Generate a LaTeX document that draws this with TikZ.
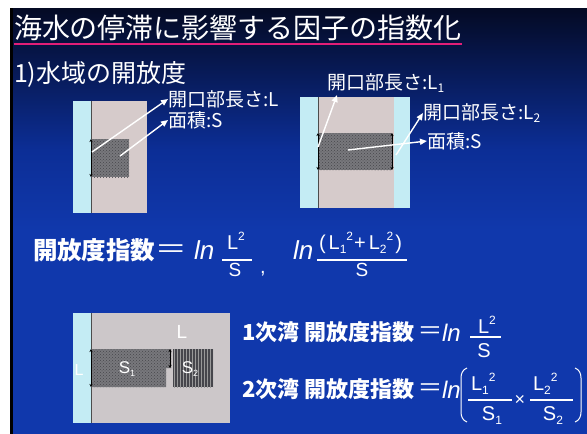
\documentclass[tikz,border=0pt]{standalone}
\usepackage{fontspec}
\usepackage{graphicx}
\setmainfont{Liberation Sans}
\newfontfamily\jp{Noto Sans CJK JP}
\usetikzlibrary{patterns,arrows.meta}
\definecolor{bgtop}{RGB}{4,10,36}
\definecolor{bgmid}{RGB}{12,46,150}
\definecolor{bgblue}{RGB}{16,56,172}
\definecolor{lblue}{RGB}{196,236,244}
\definecolor{pinkgrey}{RGB}{214,203,203}
\definecolor{greyb}{RGB}{204,199,201}
\definecolor{hatchbg}{RGB}{120,120,124}
\definecolor{hatchfg}{RGB}{70,70,76}
\definecolor{uline}{RGB}{226,30,120}
\newcommand\supx[2][12]{\raisebox{0.42em}{\fontsize{#1}{#1}\selectfont #2}}
\newcommand\subx[2][12]{\raisebox{-0.2em}{\fontsize{#1}{#1}\selectfont #2}}
\begin{document}
\begin{tikzpicture}[x=1pt,y=-1pt,
  txt/.style={text=white,inner sep=0pt,outer sep=0pt},
  jpt/.style={txt,font=\jp\fontsize{#1}{#1}\selectfont},
  jpb/.style={txt,font=\jp\bfseries\fontsize{#1}{#1}\selectfont},
  lat/.style={txt,font=\fontsize{#1}{#1}\selectfont},
  wa/.style={draw=white,line width=1.4pt,-{Triangle[length=7pt,width=6pt]}},
  ba/.style={draw=black,line width=0.8pt,{Stealth[length=3pt,width=3pt]}-{Stealth[length=3pt,width=3pt]}},
  sea/.style={fill=lblue},
  land/.style={fill=pinkgrey},
  hatchA/.style={fill=hatchbg,postaction={pattern=crosshatch dots,pattern color=hatchfg}},
  hatchB/.style={fill=hatchfg,postaction={pattern=vertical lines,pattern color=gray!80}},
  edge/.style={draw=black!70,line width=0.6pt},
  bar/.style={draw=white,line width=1.3pt}]
\useasboundingbox (0,0) rectangle (587,434);
\fill[white] (0,0) rectangle (587,434);
\fill[bgblue] (10,8) rectangle (587,434);
\shade[top color=bgtop,bottom color=bgmid] (10,8) rectangle (587,150);
\shade[top color=bgmid,bottom color=bgblue] (10,150) rectangle (587,230);
\fill[black] (10,8) rectangle (13,434);

% title
\node[jpt=28,anchor=west] (title) at (14,28) {海水の停滞に影響する因子の指数化};
\coordinate (u1) at (14,44);
\draw[uline,line width=2.5pt] (u1) -- (u1 -| title.east);
\node[jpt=25,anchor=west] (sub) at (14,74) {1)水域の開放度};

% diagram 1
\fill[sea] (73,101) rectangle (91,213);
\fill[land] (91,101) rectangle (147,213);
\draw[edge] (91,101) -- (91,213);
\path[hatchA] (91,139) rectangle (129,177);
\coordinate (d1a) at (92,152);
\coordinate (d1b) at (120,156);
\draw[ba] (91,139) -- (91,177);
\node[jpt=19,anchor=west] (lab1) at (168,99) {開口部長さ:L};
\node[jpt=19,anchor=west] (lab2) at (168,120) {面積:S};
\draw[wa] (d1a) -- (lab1.west);
\draw[wa] (d1b) -- (lab2.west);

% diagram 2
\fill[sea] (300,97) rectangle (318,208);
\fill[land] (318,97) rectangle (394,208);
\fill[sea] (394,97) rectangle (410,208);
\draw[edge] (318,97) -- (318,208);
\path[hatchA] (318,133) rectangle (392,170);
\draw[ba] (318,133) -- (318,170);
\draw[ba] (392,133) -- (392,170);
\coordinate (d2a) at (318,147);
\coordinate (d2b) at (396,155);
\coordinate (d2c) at (348,150);
\coordinate (d2t) at (337,95);
\node[jpt=19,anchor=west] (lab3) at (327,83) {開口部長さ:L\subx{1}};
\node[jpt=19,anchor=west] (lab4) at (423,113) {開口部長さ:L\subx{2}};
\node[jpt=19,anchor=west] (lab5) at (427,141) {面積:S};
\draw[wa] (d2a) -- (d2t);
\draw[wa] (d2b) -- (lab4.west);
\draw[wa] (d2c) -- (lab5.west);

% formula row
\node[jpb=24.5,anchor=west] (k1) at (33,250) {開放度指数};
\node[lat=24,anchor=center] (eq1) at (171,251) {\scalebox{2}[1]{=}};
\node[lat=26,anchor=base west] (ln1) at (194,259) {\itshape ln};
\node[lat=20,anchor=base west] (n1) at (227,249) {L\supx{2}};
\node[lat=19,anchor=base] (s1) at (235,276) {S};
\draw[bar] (222,260) coordinate (b1l) -- (252,260) coordinate (b1r);
\node[lat=20,anchor=base] (cm) at (263,273) {,};
\node[lat=26,anchor=base west] (ln2) at (293,259) {\itshape ln};
\node[lat=20,anchor=base west] (n2) at (319,249) {(\hspace{3pt}L\subx{1}\supx{2}\hspace{1pt}+\hspace{3pt}L\subx{2}\supx{2}\hspace{2pt})};
\node[lat=19,anchor=base] (s2) at (362,276) {S};
\draw[bar] (317,260) coordinate (b2l) -- (407,260) coordinate (b2r);

% diagram 3
\fill[sea] (73,313) rectangle (91,423);
\fill[fill=greyb] (91,313) rectangle (230,423);
\draw[edge] (91,313) -- (91,423);
\path[hatchA] (91,349) -- (171,349) -- (171,368) -- (166,368) -- (166,387) -- (91,387) -- cycle;
\path[hatchB] (173,349) rectangle (213,387);
\draw[ba] (91,349) -- (91,387);
\draw[ba] (170,349) -- (170,368);
\node[lat=19,anchor=center] (L3a) at (182,332) {L};
\node[lat=16,anchor=center] (L3b) at (79,370) {L};
\node[lat=17,anchor=center] (S3a) at (127,369) {S\subx[9]{1}};
\node[lat=17,anchor=center] (S3b) at (190,369) {S\subx[9]{2}};

% bay formulas
\node[jpb=22,anchor=west] (f1) at (242,332) {1次湾 開放度指数};
\node[lat=22,anchor=center] (eq2) at (430,332) {\scalebox{1.7}[1]{=}};
\node[lat=24,anchor=base west] (ln3) at (442,341) {\itshape ln};
\node[lat=20,anchor=base] (n3) at (487,333) {L\supx{2}};
\node[lat=20,anchor=base] (s3) at (484,357) {S};
\draw[bar] (470,337) coordinate (b3l) -- (501,337) coordinate (b3r);

\node[jpb=22,anchor=west] (f2) at (242,389) {2次湾 開放度指数};
\node[lat=22,anchor=center] (eq3) at (430,389) {\scalebox{1.7}[1]{=}};
\node[lat=24,anchor=base west] (ln4) at (442,398) {\itshape ln};
\draw[white,line width=1pt] (467,368) to[out=200,in=90] (461,378) -- (461,412) to[out=-90,in=160] (467,422);
\node[lat=20,anchor=base west] (n4) at (471,390) {L\subx{1}\supx{2}};
\node[lat=20,anchor=base] (s4) at (492,420) {S\subx{1}};
\draw[bar] (468,400) coordinate (b4l) -- (512,400) coordinate (b4r);
\node[lat=18,anchor=center] (x4) at (520,400) {×};
\node[lat=20,anchor=base west] (n5) at (533,390) {L\subx{2}\supx{2}};
\node[lat=20,anchor=base] (s5) at (553,420) {S\subx{2}};
\draw[bar] (530,400) coordinate (b5l) -- (573,400) coordinate (b5r);
\draw[white,line width=1pt] (575,368) to[out=-20,in=90] (581,378) -- (581,412) to[out=-90,in=20] (575,422);
\end{tikzpicture}
\end{document}
